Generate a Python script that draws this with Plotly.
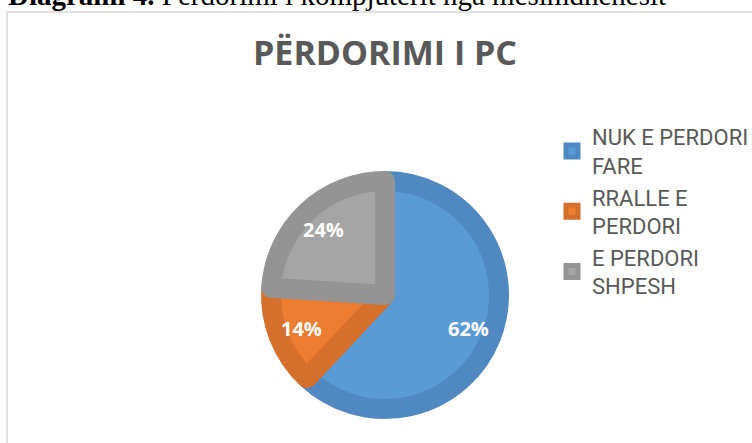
import math
import plotly.graph_objects as go

categories = ["NUK E PERDORI<br>FARE", "RRALLE E<br>PERDORI", "E PERDORI<br>SHPESH"]
values = [62, 14, 24]
fill_colors = ["#5B9BD5", "#ED7D31", "#A5A5A5"]
edge_colors = ["#5089C2", "#D4702C", "#949494"]

W, H = 752, 443
cx, cy, r = 385, 295, 114
label_dist = 90

fig = go.Figure(go.Pie(
    labels=categories,
    values=values,
    sort=False,
    direction="clockwise",
    rotation=0,
    marker=dict(colors=fill_colors, line=dict(color=edge_colors, width=20)),
    textinfo="none",
    hoverinfo="skip",
    domain=dict(x=[(cx - r) / W, (cx + r) / W],
                y=[(H - cy - r) / H, (H - cy + r) / H]),
))

# percentage labels placed at each slice's mid-angle (derived from the values)
total = sum(values)
annotations = []
cum = 0
for v in values:
    mid = (cum + v / 2) / total * 2 * math.pi
    cum += v
    annotations.append(dict(
        text=f"<b>{round(v / total * 100)}%</b>",
        xref="paper", yref="paper",
        x=(cx + label_dist * math.sin(mid)) / W,
        y=(H - cy + label_dist * math.cos(mid)) / H,
        xanchor="center", yanchor="middle", showarrow=False,
        font=dict(family="Open Sans", size=20, color="white")))

annotations.append(dict(
    text="<b>Diagrami 4.</b> Përdorimi i kompjuterit nga mësimdhënësit",
    xref="paper", yref="paper", x=6 / W, xanchor="left",
    y=1 - 13 / H, yanchor="bottom", showarrow=False,
    font=dict(family="Liberation Serif", size=29, color="black")))

fig.update_layout(
    width=W, height=H,
    margin=dict(l=0, r=0, t=0, b=0, autoexpand=False),
    paper_bgcolor="white",
    plot_bgcolor="white",
    title=dict(text="<b>PËRDORIMI I PC</b>", x=cx / W, xanchor="center",
               y=1 - 53 / H, yanchor="middle", yref="container",
               font=dict(family="Open Sans", size=34, color="#595959")),
    legend=dict(x=552 / W, xanchor="left", y=1 - 116 / H, yanchor="top",
                font=dict(family="Roboto", size=22, color="#595959"),
                bgcolor="rgba(0,0,0,0)"),
    showlegend=True,
    shapes=[dict(type="rect", xref="paper", yref="paper",
                 x0=7 / W, x1=1.05, y0=-0.05, y1=1 - 12 / H,
                 line=dict(color="#D9D9D9", width=1.5), fillcolor="rgba(0,0,0,0)",
                 layer="below")],
    annotations=annotations,
)

fig.write_html("out.html",
               config={"displayModeBar": False},
               post_script="document.body.style.margin='0';document.body.style.overflow='hidden';")
